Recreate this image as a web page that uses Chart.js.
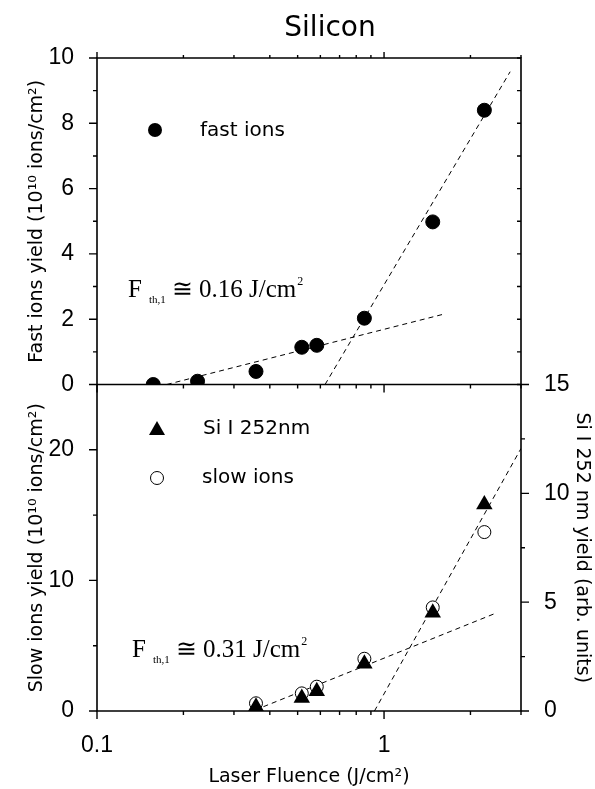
<!DOCTYPE html>
<html lang="en">
<head>
    <meta charset="UTF-8">
    <title>Silicon</title>
    <script src="https://cdn.jsdelivr.net/npm/chart.js"></script>
    <style>
        body {
            margin: 0;
            background: white;
        }
        #chart {
            display: block;
        }
    </style>
</head>
<body>
    <canvas id="chart" width="595" height="789"></canvas>

    <script>
        // fluence values (J/cm2) where the yields were measured
        const fluence = [0.157, 0.224, 0.358, 0.517, 0.583, 0.854, 1.478, 2.236];
        const fastIons = [0, 0.1, 0.4, 1.14, 1.2, 2.03, 4.98, 8.4];

        const fluenceSlow = [0.358, 0.517, 0.583, 0.854, 1.478, 2.236];
        const slowIons = [0.59, 1.35, 1.86, 4.0, 7.93, 13.7];
        const siEmission = [0.19, 0.6, 0.91, 2.17, 4.51, 9.49];

        // dashed fits (two regimes for each panel)
        const fastFitLowX = [0.175, 1.64];
        const fastFitLowY = [0, 2.17];
        const fastFitHighX = [0.623, 2.75];
        const fastFitHighY = [0, 9.58];
        const slowFitLowX = [0.38, 2.47];
        const slowFitLowY = [0.33, 7.52];
        const slowFitHighX = [0.926, 3];
        const slowFitHighY = [0, 20.1];

        // axis ticks
        const xMajor = [0.1, 1];
        const xMinor = [0.2, 0.3, 0.4, 0.5, 0.6, 0.7, 0.8, 0.9, 2, 3];
        const fastMajor = [0, 2, 4, 6, 8, 10];
        const fastMinor = [1, 3, 5, 7, 9];
        const slowMajor = [0, 10, 20];
        const slowMinor = [5, 15];
        const siMajor = [0, 5, 10, 15];
        const siMinor = [2.5, 7.5, 12.5];

        const sansFont = '"DejaVu Sans", sans-serif';
        const tickFont = { family: '"Liberation Sans", Arial, sans-serif', size: 23 };
        const titleFont = { family: sansFont, size: 19 };

        function points(xs, ys) {
            return xs.map((x, i) => ({ x: x, y: ys[i] }));
        }

        function fitLine(xs, ys, axis) {
            return {
                data: points(xs, ys),
                yAxisID: axis,
                showLine: true,
                borderColor: 'black',
                borderWidth: 1,
                borderDash: [5, 4],
                pointRadius: 0,
                order: 5
            };
        }

        function setTicks(values) {
            return scale => {
                scale.ticks = values.map(v => ({ value: v }));
            };
        }

        function drawTicks(ctx, scale, values, pos, len, horizontal) {
            values.forEach(v => {
                const p = scale.getPixelForValue(v);
                if (horizontal) {
                    ctx.moveTo(p, pos);
                    ctx.lineTo(p, pos + len);
                } else {
                    ctx.moveTo(pos, p);
                    ctx.lineTo(pos + len, p);
                }
            });
        }

        function drawFth(ctx, x, y, value) {
            ctx.textBaseline = 'alphabetic';
            ctx.textAlign = 'left';
            ctx.font = '25px "Liberation Serif", serif';
            ctx.fillText('F', x, y);
            x += ctx.measureText('F').width + 7;
            ctx.font = '11px "Liberation Serif", serif';
            ctx.fillText('th,1', x, y + 6);
            x += ctx.measureText('th,1').width + 6;
            ctx.font = '25px "Liberation Serif", serif';
            const main = '\u2245 ' + value + ' J/cm';
            ctx.fillText(main, x, y);
            x += ctx.measureText(main).width + 1;
            ctx.font = '12px "Liberation Serif", serif';
            ctx.fillText('2', x, y - 12);
        }

        const framePlugin = {
            id: 'frame',
            afterDraw(chart) {
                const ctx = chart.ctx;
                const area = chart.chartArea;
                const s = chart.scales;
                const mid = s.yTop.bottom;

                ctx.save();
                ctx.strokeStyle = 'black';
                ctx.lineWidth = 1.6;
                ctx.beginPath();
                ctx.rect(area.left, area.top, area.right - area.left, area.bottom - area.top);
                ctx.moveTo(area.left, mid);
                ctx.lineTo(area.right, mid);
                ctx.stroke();

                ctx.lineWidth = 1.4;
                ctx.beginPath();
                // left axes
                drawTicks(ctx, s.yTop, fastMajor, area.left, -8, false);
                drawTicks(ctx, s.yTop, fastMinor, area.left, -4, false);
                drawTicks(ctx, s.yBot, slowMajor, area.left, -8, false);
                drawTicks(ctx, s.yBot, slowMinor, area.left, -4, false);
                // right axes
                drawTicks(ctx, s.yTop, fastMajor.concat(fastMinor), area.right, -4, false);
                drawTicks(ctx, s.yBotR, siMajor, area.right, 8, false);
                drawTicks(ctx, s.yBotR, siMinor, area.right, 4, false);
                // x ticks on the bottom, middle and top lines
                drawTicks(ctx, s.x, xMajor, area.bottom, 8, true);
                drawTicks(ctx, s.x, xMinor, area.bottom, 4, true);
                drawTicks(ctx, s.x, xMajor, mid, 8, true);
                drawTicks(ctx, s.x, xMinor, mid, 4, true);
                drawTicks(ctx, s.x, xMajor, area.top, -6, true);
                drawTicks(ctx, s.x, xMinor, area.top, -3, true);
                ctx.stroke();

                ctx.fillStyle = 'black';

                // title
                ctx.font = '28px ' + sansFont;
                ctx.textAlign = 'center';
                ctx.textBaseline = 'middle';
                ctx.fillText('Silicon', 330, 29);

                // legends
                ctx.font = '20px ' + sansFont;
                ctx.textAlign = 'left';
                ctx.beginPath();
                ctx.arc(155, 130, 7, 0, Math.PI * 2);
                ctx.fill();
                ctx.fillText('fast ions', 200, 131);

                ctx.beginPath();
                ctx.moveTo(157, 421);
                ctx.lineTo(165, 435);
                ctx.lineTo(149, 435);
                ctx.closePath();
                ctx.fill();
                ctx.fillText('Si I 252nm', 203, 429);

                ctx.lineWidth = 1;
                ctx.beginPath();
                ctx.arc(157, 478, 6.5, 0, Math.PI * 2);
                ctx.stroke();
                ctx.fillText('slow ions', 202, 478);

                // threshold annotations
                drawFth(ctx, 128, 297, '0.16');
                drawFth(ctx, 132, 657, '0.31');
                ctx.restore();
            }
        };

        new Chart(document.getElementById('chart'), {
            type: 'scatter',
            data: {
                datasets: [
                    {
                        label: 'fast ions',
                        data: points(fluence, fastIons),
                        yAxisID: 'yTop',
                        pointStyle: 'circle',
                        pointRadius: 7,
                        backgroundColor: 'black',
                        borderColor: 'black',
                        order: 0
                    },
                    {
                        label: 'Si I 252nm',
                        data: points(fluenceSlow, siEmission),
                        yAxisID: 'yBotR',
                        pointStyle: 'triangle',
                        pointRadius: 9.5,
                        backgroundColor: 'black',
                        borderColor: 'black',
                        borderWidth: 0,
                        order: 0
                    },
                    {
                        label: 'slow ions',
                        data: points(fluenceSlow, slowIons),
                        yAxisID: 'yBot',
                        pointStyle: 'circle',
                        pointRadius: 6.5,
                        backgroundColor: 'white',
                        borderColor: 'black',
                        borderWidth: 1,
                        order: 1
                    },
                    fitLine(fastFitLowX, fastFitLowY, 'yTop'),
                    fitLine(fastFitHighX, fastFitHighY, 'yTop'),
                    fitLine(slowFitLowX, slowFitLowY, 'yBot'),
                    fitLine(slowFitHighX, slowFitHighY, 'yBot')
                ]
            },
            options: {
                responsive: false,
                animation: false,
                layout: { padding: { top: 58, left: 0, right: 0, bottom: 0 } },
                plugins: {
                    legend: { display: false },
                    tooltip: { enabled: false }
                },
                scales: {
                    x: {
                        type: 'logarithmic',
                        position: 'bottom',
                        min: 0.1,
                        max: 3,
                        afterFit: scale => { scale.height = 78; },
                        afterBuildTicks: setTicks(xMajor.concat(xMinor)),
                        grid: { display: false },
                        border: { display: false },
                        ticks: {
                            autoSkip: false,
                            maxRotation: 0,
                            padding: 13,
                            color: 'black',
                            font: tickFont,
                            callback: v => (xMajor.includes(v) ? String(v) : '')
                        },
                        title: {
                            display: true,
                            text: 'Laser Fluence (J/cm\u00B2)',
                            color: 'black',
                            font: titleFont,
                            padding: { top: 0, bottom: 1 }
                        }
                    },
                    // left stack is laid out from the last key upward, so the lower panel comes first
                    yBot: {
                        type: 'linear',
                        position: 'left',
                        stack: 'left',
                        stackWeight: 1,
                        min: 0,
                        max: 25,
                        afterFit: scale => { scale.width = 97; },
                        afterBuildTicks: setTicks(slowMajor),
                        grid: { display: false },
                        border: { display: false },
                        ticks: { padding: 15, color: 'black', font: tickFont },
                        title: {
                            display: true,
                            text: 'Slow ions yield (10\u00B9\u2070 ions/cm\u00B2)',
                            color: 'black',
                            font: titleFont,
                            padding: { top: 26, bottom: 0 }
                        }
                    },
                    yTop: {
                        type: 'linear',
                        position: 'left',
                        stack: 'left',
                        stackWeight: 1,
                        min: 0,
                        max: 10,
                        afterFit: scale => { scale.width = 97; },
                        afterBuildTicks: setTicks(fastMajor),
                        grid: { display: false },
                        border: { display: false },
                        ticks: { padding: 15, color: 'black', font: tickFont },
                        title: {
                            display: true,
                            text: 'Fast ions yield (10\u00B9\u2070 ions/cm\u00B2)',
                            color: 'black',
                            font: titleFont,
                            padding: { top: 26, bottom: 0 }
                        }
                    },
                    yTopR: {
                        type: 'linear',
                        position: 'right',
                        stack: 'right',
                        stackWeight: 1,
                        min: 0,
                        max: 10,
                        afterFit: scale => { scale.width = 74; },
                        grid: { display: false },
                        border: { display: false },
                        ticks: { display: false }
                    },
                    yBotR: {
                        type: 'linear',
                        position: 'right',
                        stack: 'right',
                        stackWeight: 1,
                        min: 0,
                        max: 15,
                        afterFit: scale => { scale.width = 74; },
                        afterBuildTicks: setTicks(siMajor),
                        grid: { display: false },
                        border: { display: false },
                        ticks: { padding: 15, color: 'black', font: tickFont },
                        title: {
                            display: true,
                            text: 'Si I 252 nm yield (arb. units)',
                            color: 'black',
                            font: titleFont,
                            padding: { top: 2, bottom: 0 }
                        }
                    }
                }
            },
            plugins: [framePlugin]
        });
    </script>
</body>
</html>
